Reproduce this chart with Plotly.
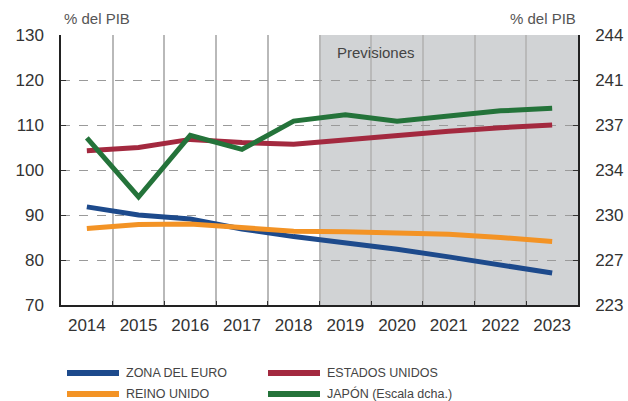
import plotly.graph_objects as go

years = ["2014", "2015", "2016", "2017", "2018", "2019", "2020", "2021", "2022", "2023"]
zona_euro = [91.8, 90.0, 89.1, 86.9, 85.2, 83.9, 82.4, 80.7, 78.9, 77.1]
reino_unido = [87.0, 87.9, 88.0, 87.1, 86.4, 86.3, 86.1, 85.7, 85.0, 84.1]
estados_unidos = [104.3, 105.0, 106.8, 106.1, 105.7, 106.7, 107.6, 108.6, 109.4, 110.0]
japon = [236.0, 231.4, 236.2, 235.1, 237.3, 237.8, 237.3, 237.7, 238.1, 238.3]

left_ticks = [70, 80, 90, 100, 110, 120, 130]
right_tickvals = [223, 226.5, 230, 233.5, 237, 240.5, 244]
right_ticktext = ["223", "227", "230", "234", "237", "241", "244"]

names = ["ZONA DEL EURO", "REINO UNIDO", "ESTADOS UNIDOS", "JAPÓN (Escala dcha.)"]
colors = ["#1d4a8c", "#f39325", "#a3293f", "#24733a"]

W, H = 628, 401
ML, MR, MT, MB = 61, 50, 35, 96
PW, PH = W - ML - MR, H - MT - MB


def px_x(px):
    return (px - ML) / PW


def px_y(py):
    return (H - MB - py) / PH


FONT = "Liberation Sans"
fig = go.Figure()
fig.add_trace(go.Scatter(x=years, y=zona_euro, mode="lines", name=names[0],
                         line=dict(color=colors[0], width=5)))
fig.add_trace(go.Scatter(x=years, y=reino_unido, mode="lines", name=names[1],
                         line=dict(color=colors[1], width=5)))
fig.add_trace(go.Scatter(x=years, y=estados_unidos, mode="lines", name=names[2],
                         line=dict(color=colors[2], width=5)))
fig.add_trace(go.Scatter(x=years, y=japon, mode="lines", name=names[3], yaxis="y2",
                         line=dict(color=colors[3], width=5)))

# Forecast shading
fig.add_shape(type="rect", xref="x", yref="paper", x0=4.5, x1=9.5, y0=0, y1=1,
              fillcolor="#d1d3d5", line=dict(width=0), layer="below")

fig.add_annotation(x=4.80, y=126.1, xref="x", yref="y", text="Previsiones",
                   showarrow=False, xanchor="left", yanchor="middle",
                   font=dict(family=FONT, size=15, color="#444444"))
fig.add_annotation(x=px_x(62), y=px_y(18), xref="paper", yref="paper",
                   text="% del PIB", showarrow=False, xanchor="left", yanchor="middle",
                   font=dict(family=FONT, size=15, color="#555555"))
fig.add_annotation(x=px_x(578), y=px_y(18), xref="paper", yref="paper",
                   text="% del PIB", showarrow=False, xanchor="right", yanchor="middle",
                   font=dict(family=FONT, size=15, color="#555555"))

# Manual legend (long swatches)
legend_items = [(0, 0, 0), (1, 0, 1), (2, 1, 0), (3, 1, 1)]
col_px = [67, 268]
row_px = [373, 394]
sw = 52
for i, c, r in legend_items:
    fig.add_shape(type="line", xref="paper", yref="paper",
                  x0=px_x(col_px[c]), x1=px_x(col_px[c] + sw),
                  y0=px_y(row_px[r]), y1=px_y(row_px[r]),
                  line=dict(color=colors[i], width=6))
    fig.add_annotation(x=px_x(col_px[c] + sw + 5), y=px_y(row_px[r]), xref="paper", yref="paper",
                       text=names[i], showarrow=False, xanchor="left", yanchor="middle",
                       font=dict(family=FONT, size=12.5, color="#444444"))

fig.update_layout(
    width=W, height=H,
    margin=dict(l=ML, r=MR, t=MT, b=MB, autoexpand=False),
    paper_bgcolor="white", plot_bgcolor="white",
    showlegend=False,
    font=dict(family=FONT, size=17, color="#333333"),
    xaxis=dict(type="category", tickson="boundaries", ticks="inside", ticklen=4,
               tickcolor="#333333", showline=True, linecolor="#222222", linewidth=1.5,
               showgrid=True, gridcolor="#b9b9b9", gridwidth=1.5, automargin=False,
               tickfont=dict(family=FONT, size=17, color="#333333"),
               ticklabelstandoff=4,
               range=[-0.5, 9.5], fixedrange=True),
    yaxis=dict(range=[70, 130], tickvals=left_ticks, ticks="inside", ticklen=5,
               tickcolor="#333333", showline=True, linecolor="#222222", linewidth=1.5,
               showgrid=True, gridcolor="#9a9a9a", griddash="dash", gridwidth=1,
               zeroline=False, ticklabelstandoff=12, automargin=False,
               tickfont=dict(family=FONT, size=17, color="#333333")),
    yaxis2=dict(range=[223, 244], tickvals=right_tickvals, ticktext=right_ticktext,
                overlaying="y", side="right", ticks="inside", ticklen=5,
                tickcolor="#333333", showline=True, linecolor="#222222", linewidth=1.5,
                showgrid=False, zeroline=False, ticklabelstandoff=12, automargin=False,
                tickfont=dict(family=FONT, size=17, color="#333333")),
)

fig.write_html("out.html", config={"displayModeBar": False},
               post_script="document.body.style.margin='0';")
